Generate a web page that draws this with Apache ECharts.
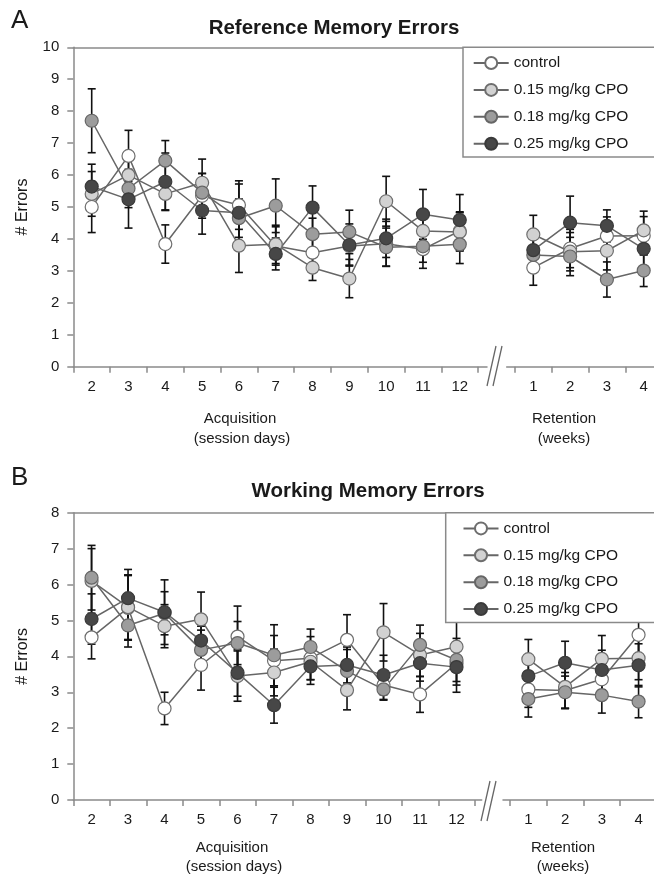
<!DOCTYPE html>
<html><head><meta charset="utf-8">
<script src="https://cdn.jsdelivr.net/npm/echarts@6/dist/echarts.min.js"></script>
<style>html,body{margin:0;padding:0;background:#fff}#c{width:654px;height:878px}</style>
</head><body><div id="c"></div>
<script>
// ---------- DATA ----------
const acqDays = [2, 3, 4, 5, 6, 7, 8, 9, 10, 11, 12];
const retWeeks = [1, 2, 3, 4];
const groupNames = ['control', '0.15 mg/kg CPO', '0.18 mg/kg CPO', '0.25 mg/kg CPO'];
const yTicksA = [0, 1, 2, 3, 4, 5, 6, 7, 8, 9, 10];
const yTicksB = [0, 1, 2, 3, 4, 5, 6, 7, 8];

// Panel A: Reference memory errors (means)
const refAcqControl = [5.0, 6.6, 3.84, 5.35, 5.06, 3.78, 3.57, 3.78, 3.85, 3.68, 4.25];
const refAcq015     = [5.41, 6.0, 5.41, 5.76, 3.79, 3.83, 3.10, 2.76, 5.18, 4.25, 4.22];
const refAcq018     = [7.7, 5.58, 6.45, 5.45, 4.65, 5.04, 4.15, 4.22, 3.74, 3.77, 3.83];
const refAcq025     = [5.64, 5.24, 5.79, 4.89, 4.82, 3.53, 4.98, 3.81, 4.02, 4.77, 4.59];
const refRetControl = [3.1, 3.7, 4.09, 4.1];
const refRet015     = [4.14, 3.6, 3.63, 4.27];
const refRet018     = [3.5, 3.45, 2.73, 3.01];
const refRet025     = [3.65, 4.51, 4.41, 3.69];
// Panel A: standard errors
const refAcqControlSE = [0.8, 0.8, 0.6, 0.7, 0.76, 0.6, 0.6, 0.6, 0.7, 0.6, 0.6];
const refAcq015SE     = [0.7, 0.7, 0.5, 0.74, 0.84, 0.6, 0.4, 0.6, 0.78, 0.6, 0.6];
const refAcq018SE     = [1.0, 0.6, 0.63, 0.6, 0.6, 0.84, 0.5, 0.68, 0.6, 0.5, 0.6];
const refAcq025SE     = [0.7, 0.9, 0.9, 0.74, 0.9, 0.5, 0.68, 0.66, 0.6, 0.78, 0.8];
const refRetControlSE = [0.55, 0.6, 0.6, 0.6];
const refRet015SE     = [0.6, 0.6, 0.6, 0.6];
const refRet018SE     = [0.5, 0.6, 0.55, 0.5];
const refRet025SE     = [0.6, 0.83, 0.5, 0.55];

// Panel B: Working memory errors (means)
const wrkAcqControl = [4.53, 5.35, 2.55, 3.76, 4.55, 3.88, 3.95, 4.46, 3.2, 2.94, 3.8];
const wrkAcq015     = [6.1, 5.37, 4.84, 5.03, 3.45, 3.55, 3.85, 3.06, 4.67, 4.04, 4.27];
const wrkAcq018     = [6.19, 4.86, 5.2, 4.18, 4.37, 4.03, 4.26, 3.59, 3.08, 4.32, 3.9];
const wrkAcq025     = [5.04, 5.62, 5.23, 4.44, 3.54, 2.64, 3.72, 3.76, 3.48, 3.81, 3.7];
const wrkRetControl = [3.08, 3.05, 3.36, 4.6];
const wrkRet015     = [3.92, 3.15, 3.93, 3.95];
const wrkRet018     = [2.81, 3.0, 2.92, 2.74];
const wrkRet025     = [3.45, 3.82, 3.62, 3.75];
// Panel B: standard errors
const wrkAcqControlSE = [0.6, 0.9, 0.45, 0.7, 0.85, 0.7, 0.6, 0.7, 0.4, 0.5, 0.6];
const wrkAcq015SE     = [0.9, 0.9, 0.6, 0.76, 0.7, 0.65, 0.5, 0.55, 0.8, 0.6, 0.7];
const wrkAcq018SE     = [0.9, 0.6, 0.6, 0.55, 0.6, 0.85, 0.5, 0.6, 0.3, 0.55, 0.6];
const wrkAcq025SE     = [0.7, 0.8, 0.9, 0.4, 0.65, 0.5, 0.5, 0.5, 0.55, 0.5, 0.7];
const wrkRetControlSE = [0.5, 0.5, 0.5, 0.6];
const wrkRet015SE     = [0.55, 0.6, 0.65, 0.6];
const wrkRet018SE     = [0.5, 0.45, 0.5, 0.45];
const wrkRet025SE     = [0.55, 0.6, 0.55, 0.6];

// ---------- CHART ----------
const FONT = '"Liberation Sans", Arial, Helvetica, sans-serif';
const AXIS = '#8a8a8a';
const TXT = '#1a1a1a';
const fills = ['#ffffff', '#d2d2d2', '#9c9c9c', '#474747'];
const borders = ['#6e6e6e', '#6e6e6e', '#666666', '#3a3a3a'];

const panels = [
  { top: 47.3, height: 319.4, ymax: 10, ticks: yTicksA,
    acq: { left: 73.3, width: 413.7, max: 12.74 },
    ret: { left: 506.7, width: 147.3, min: 0.277, max: 4.28 },
    acqVals: [refAcqControl, refAcq015, refAcq018, refAcq025],
    acqSE: [refAcqControlSE, refAcq015SE, refAcq018SE, refAcq025SE],
    retVals: [refRetControl, refRet015, refRet018, refRet025],
    retSE: [refRetControlSE, refRet015SE, refRet018SE, refRet025SE],
    labelMargin: 13, legend: { left: 463, padL: 9.7 } },
  { top: 512.7, height: 287.3, ymax: 8, ticks: yTicksB,
    acq: { left: 73.3, width: 408.4, max: 12.69 },
    ret: { left: 503, width: 151, min: 0.31, max: 4.42 },
    acqVals: [wrkAcqControl, wrkAcq015, wrkAcq018, wrkAcq025],
    acqSE: [wrkAcqControlSE, wrkAcq015SE, wrkAcq018SE, wrkAcq025SE],
    retVals: [wrkRetControl, wrkRet015, wrkRet018, wrkRet025],
    retSE: [wrkRetControlSE, wrkRet015SE, wrkRet018SE, wrkRet025SE],
    labelMargin: 12.5, legend: { left: 445.7, padL: 16.8 } }
];

const grid = [], xAxis = [], yAxis = [], series = [], legend = [];
const axisLineStyle = { color: AXIS, width: 1.5 };

function errRender(params, api) {
  const x = api.value(0), y = api.value(1), e = api.value(2);
  const t = api.coord([x, y + e]);
  const b = api.coord([x, y - e]);
  const hw = 4;
  const st = { stroke: '#111', lineWidth: 1.6 };
  return { type: 'group', children: [
    { type: 'line', shape: { x1: t[0], y1: t[1], x2: b[0], y2: b[1] }, style: st },
    { type: 'line', shape: { x1: t[0] - hw, y1: t[1], x2: t[0] + hw, y2: t[1] }, style: st },
    { type: 'line', shape: { x1: b[0] - hw, y1: b[1], x2: b[0] + hw, y2: b[1] }, style: st }
  ]};
}

panels.forEach((p, pi) => {
  const base = grid.length;
  grid.push({ left: p.acq.left, top: p.top, width: p.acq.width, height: p.height });
  grid.push({ left: p.ret.left, top: p.top, width: p.ret.width, height: p.height });
  grid.push({ left: p.acq.left, top: p.top, width: 620, height: p.height });

  const acqTicks = [1.5].concat(acqDays.map(d => d + 0.5));
  const retTicks = [0.5].concat(retWeeks.map(w => w + 0.5));
  xAxis.push({ gridIndex: base, type: 'value', min: 1.5, max: p.acq.max,
    axisLine: { show: true, onZero: false, lineStyle: axisLineStyle },
    axisTick: { show: true, length: 6, lineStyle: axisLineStyle, customValues: acqTicks },
    axisLabel: { show: true, customValues: acqDays, fontSize: 15, color: TXT, fontFamily: FONT, margin: p.labelMargin },
    splitLine: { show: false } });
  xAxis.push({ gridIndex: base + 1, type: 'value', min: p.ret.min, max: p.ret.max,
    axisLine: { show: true, onZero: false, lineStyle: axisLineStyle },
    axisTick: { show: true, length: 6, lineStyle: axisLineStyle, customValues: retTicks },
    axisLabel: { show: true, customValues: retWeeks, fontSize: 15, color: TXT, fontFamily: FONT, margin: p.labelMargin },
    splitLine: { show: false } });
  xAxis.push({ gridIndex: base + 2, type: 'value', position: 'top', min: 0, max: 1,
    axisLine: { show: true, onZero: false, lineStyle: axisLineStyle },
    axisTick: { show: false }, axisLabel: { show: false }, splitLine: { show: false } });

  yAxis.push({ gridIndex: base, type: 'value', min: 0, max: p.ymax, interval: 1,
    axisLine: { show: true, onZero: false, lineStyle: axisLineStyle },
    axisTick: { show: true, length: 6, lineStyle: axisLineStyle },
    axisLabel: { fontSize: 15, color: TXT, fontFamily: FONT, margin: 14 },
    splitLine: { show: false },
    name: '# Errors', nameLocation: 'middle', nameGap: 43,
    nameTextStyle: { fontSize: 16, color: TXT, fontFamily: FONT } });
  yAxis.push({ gridIndex: base + 1, type: 'value', min: 0, max: p.ymax, show: false });
  yAxis.push({ gridIndex: base + 2, type: 'value', min: 0, max: 1, show: false });

  groupNames.forEach((name, g) => {
    [[acqDays, p.acqVals[g], p.acqSE[g], base], [retWeeks, p.retVals[g], p.retSE[g], base + 1]]
      .forEach(([xs, vals, se, idx]) => {
        series.push({ type: 'custom', xAxisIndex: idx, yAxisIndex: idx, silent: true, z: 2,
          renderItem: errRender, encode: { x: 0, y: 1 },
          data: xs.map((x, i) => [x, vals[i], se[i]]) });
      });
  });
  groupNames.forEach((name, g) => {
    [[acqDays, p.acqVals[g], base], [retWeeks, p.retVals[g], base + 1]].forEach(([xs, vals, idx]) => {
      series.push({ type: 'line', name: name, xAxisIndex: idx, yAxisIndex: idx, z: 3,
        data: xs.map((x, i) => [x, vals[i]]),
        symbol: 'circle', symbolSize: 13, showSymbol: true,
        lineStyle: { color: '#666666', width: 1.5 },
        itemStyle: { color: fills[g], borderColor: borders[g], borderWidth: 1.2 },
        emphasis: { disabled: true } });
    });
  });

  legend.push({ orient: 'vertical', left: p.legend.left, top: p.top, data: groupNames,
    itemWidth: 35, itemHeight: 15, itemGap: 10.9,
    padding: [7.7, 60, 5.4, p.legend.padL],
    borderColor: AXIS, borderWidth: 1.5, backgroundColor: '#fff',
    selectedMode: false,
    textStyle: { fontSize: 15.5, color: TXT, fontFamily: FONT, lineHeight: 16 } });
});

function txt(x, y, text, size, weight, align) {
  return { type: 'text', x: x, y: y, z: 10,
    style: { text: text, fill: TXT, font: (weight || 'normal') + ' ' + size + 'px ' + FONT,
      align: align || 'center', verticalAlign: 'middle' } };
}
function brk(x1, y1, x2, y2) {
  return { type: 'line', z: 10, shape: { x1: x1, y1: y1, x2: x2, y2: y2 },
    style: { stroke: '#666', lineWidth: 1.3 } };
}

const graphic = [
  txt(11, 21, 'A', 26, 'normal', 'left'),
  txt(334, 28, 'Reference Memory Errors', 20.5, 'bold'),
  txt(11, 478, 'B', 26, 'normal', 'left'),
  txt(368, 491, 'Working Memory Errors', 20.5, 'bold'),
  txt(240, 419, 'Acquisition', 15),
  txt(242, 439, '(session days)', 15),
  txt(564, 419, 'Retention', 15),
  txt(564, 439, '(weeks)', 15),
  txt(232, 848, 'Acquisition', 15),
  txt(234, 867, '(session days)', 15),
  txt(563, 848, 'Retention', 15),
  txt(563, 867, '(weeks)', 15),
  brk(487, 386, 496, 346), brk(493, 386, 502, 346),
  brk(481, 821, 490, 781), brk(487, 821, 496, 781)
];

const chart = echarts.init(document.getElementById('c'), null, { renderer: 'canvas' });
chart.setOption({
  animation: false,
  backgroundColor: '#ffffff',
  textStyle: { fontFamily: FONT },
  grid: grid, xAxis: xAxis, yAxis: yAxis, legend: legend, series: series, graphic: graphic
});
</script></body></html>
